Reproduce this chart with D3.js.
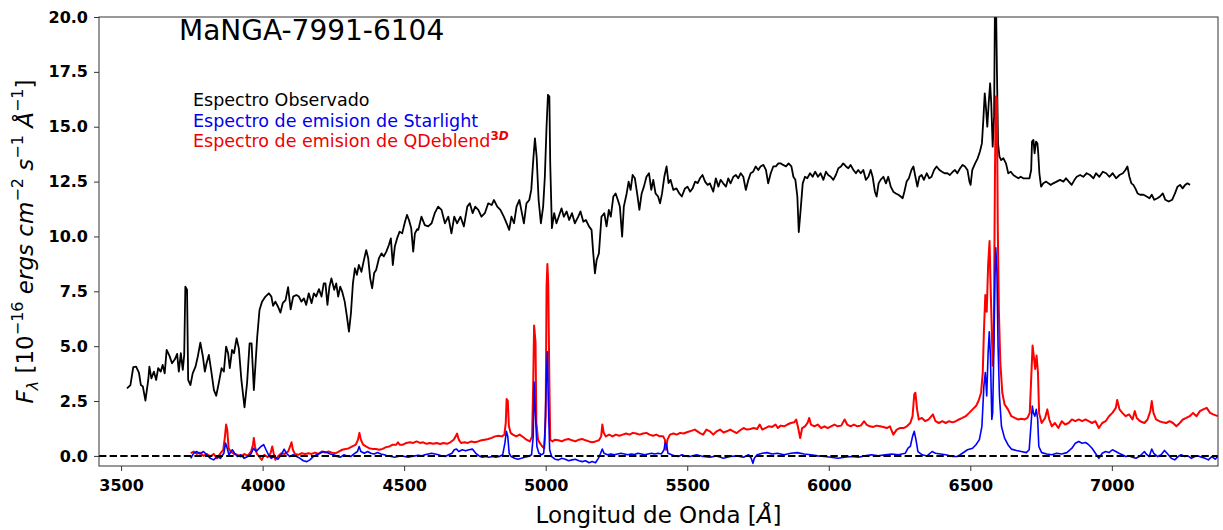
<!DOCTYPE html>
<html><head><meta charset="utf-8">
<script src="https://cdn.jsdelivr.net/npm/d3@7"></script>
<style>body{margin:0;background:#fff}svg{display:block}</style>
</head><body><svg id="c" width="1223" height="530"></svg>
<script>
// ---- data (wavelength [Å], flux [1e-16 erg/s/cm2/Å]) ----
const observed = [[3521,3.08],[3533,3.23],[3543,4.04],[3553,4.07],[3563,3.80],[3570,3.23],[3577,3.16],[3586,2.52],[3596,3.46],[3600,4.07],[3607,3.53],[3616,3.84],[3624,3.46],[3631,4.00],[3640,3.84],[3647,4.15],[3654,3.76],[3661,4.83],[3671,4.56],[3680,4.22],[3690,4.40],[3698,4.65],[3704,3.84],[3711,4.68],[3718,3.92],[3723,4.60],[3727,7.71],[3733,7.57],[3737,3.46],[3745,3.23],[3753,3.76],[3763,4.07],[3771,4.53],[3780,5.16],[3789,4.53],[3796,3.84],[3802,4.22],[3810,4.60],[3818,3.92],[3828,3.00],[3836,2.74],[3845,3.31],[3855,4.00],[3863,3.84],[3871,4.98],[3878,4.68],[3884,4.00],[3892,4.83],[3899,4.68],[3908,5.36],[3916,4.90],[3925,3.46],[3936,2.21],[3945,3.31],[3954,5.13],[3961,5.13],[3969,3.00],[3975,4.22],[3981,5.44],[3989,6.65],[3998,7.03],[4010,7.26],[4022,7.41],[4031,7.26],[4037,6.84],[4045,7.03],[4054,6.81],[4063,6.53],[4071,6.96],[4081,7.10],[4090,7.69],[4099,6.68],[4108,7.26],[4119,7.33],[4128,7.26],[4137,7.03],[4146,7.18],[4154,6.88],[4163,7.41],[4173,6.96],[4181,7.41],[4189,7.26],[4199,7.60],[4208,7.26],[4216,7.86],[4222,7.86],[4229,6.88],[4236,7.71],[4243,8.09],[4253,7.57],[4260,7.86],[4267,7.26],[4274,7.71],[4281,7.49],[4290,7.03],[4298,6.34],[4305,5.66],[4312,6.50],[4319,7.86],[4326,8.55],[4333,8.25],[4340,8.70],[4349,8.39],[4358,8.93],[4366,9.38],[4373,9.01],[4380,8.09],[4387,7.64],[4394,8.33],[4401,8.47],[4411,9.01],[4420,9.23],[4428,9.09],[4437,9.31],[4446,9.61],[4453,9.91],[4460,8.70],[4467,9.54],[4475,9.91],[4484,10.22],[4493,10.14],[4503,10.67],[4510,10.98],[4517,10.75],[4525,10.37],[4532,9.31],[4538,10.14],[4546,10.33],
[4550,10.30],[4561,10.90],[4573,10.52],[4585,10.46],[4597,10.60],[4608,11.06],[4620,11.36],[4632,11.21],[4644,10.60],[4656,10.90],[4667,10.14],[4677,10.90],[4687,10.60],[4699,10.90],[4711,10.46],[4723,11.36],[4732,11.51],[4742,11.06],[4751,11.36],[4762,11.21],[4773,10.90],[4785,11.06],[4797,11.51],[4809,11.43],[4817,11.66],[4829,11.36],[4840,11.21],[4852,10.90],[4862,10.60],[4871,10.30],[4879,10.90],[4888,10.60],[4897,11.36],[4907,11.66],[4916,11.06],[4923,10.60],[4932,11.51],[4942,11.66],[4949,12.12],[4956,13.48],[4962,14.47],[4968,13.64],[4975,11.66],[4983,10.60],[4991,11.36],[4997,12.72],[5003,15.00],[5008,16.45],[5013,16.37],[5016,13.33],[5022,10.38],[5030,11.06],[5038,10.60],[5048,10.98],[5056,11.28],[5064,10.90],[5074,11.14],[5083,10.75],[5093,11.06],[5103,10.60],[5115,10.90],[5123,11.14],[5133,10.67],[5142,10.75],[5153,10.46],[5162,10.30],[5168,9.23],[5174,8.32],[5180,8.93],[5188,9.23],[5197,10.90],[5207,11.06],[5215,10.46],[5223,11.21],[5230,10.90],[5239,11.82],[5247,11.96],[5255,11.66],[5262,11.36],[5270,9.99],[5276,11.36],[5286,11.96],[5293,12.50],[5300,12.12],[5307,12.80],[5315,12.65],[5323,11.96],[5331,11.21],[5339,11.96],[5347,12.27],[5356,12.72],[5365,12.88],[5373,12.12],[5380,12.58],[5388,11.96],[5397,11.82],[5404,11.51],[5411,11.96],[5419,12.72],[5427,13.19],[5434,12.43],[5441,12.58],[5451,12.12],[5462,12.19],[5472,11.96],[5481,11.82],[5492,12.19],[5501,12.27],[5510,12.04],[5519,12.19],[5528,12.50],[5537,12.43],[5545,12.65],[5554,12.80],[5563,12.50],[5572,12.35],
[5580,12.42],[5592,12.04],[5601,12.65],[5610,12.27],[5618,12.58],[5627,12.42],[5637,12.27],[5645,12.65],[5653,12.42],[5663,12.72],[5672,12.80],[5680,12.65],[5689,12.88],[5698,12.72],[5707,12.12],[5716,12.58],[5724,12.88],[5733,12.95],[5742,13.19],[5751,13.03],[5759,13.19],[5769,13.26],[5778,13.03],[5786,12.42],[5795,12.88],[5804,13.19],[5813,13.19],[5822,13.33],[5830,13.33],[5839,13.26],[5849,13.19],[5858,13.33],[5868,13.19],[5875,12.72],[5882,12.58],[5889,11.82],[5894,10.20],[5901,11.28],[5908,12.42],[5916,12.72],[5924,12.65],[5934,12.88],[5943,12.72],[5952,12.95],[5962,12.72],[5971,12.88],[5981,12.58],[5990,12.95],[5998,12.80],[6007,12.72],[6016,12.58],[6025,12.80],[6034,13.11],[6043,13.19],[6051,13.33],[6061,13.19],[6069,13.11],[6077,13.26],[6087,13.03],[6096,12.88],[6104,13.03],[6113,12.88],[6122,13.03],[6131,12.58],[6140,12.72],[6148,13.03],[6155,12.72],[6163,12.04],[6169,11.82],[6176,12.42],[6183,12.58],[6193,12.72],[6202,12.42],[6210,12.72],[6219,12.27],[6228,12.04],[6237,11.96],[6246,11.90],[6254,11.82],[6261,11.74],[6267,12.04],[6275,12.50],[6283,12.65],[6292,13.03],[6299,13.19],[6306,12.72],[6313,12.27],[6320,12.72],[6328,12.80],[6336,12.58],[6346,12.88],[6355,12.65],[6363,12.72],[6372,13.03],[6381,13.19],[6391,13.03],[6400,12.95],[6409,12.88],[6419,12.88],[6428,12.80],[6438,12.95],[6446,13.03],[6454,12.88],[6464,13.11],[6473,13.26],[6481,13.19],[6490,13.03],[6497,12.50],[6501,12.35],[6507,13.03],[6517,13.33],[6526,13.56],[6534,13.87],[6541,14.24],[6546,15.31],[6551,16.52],[6555,15.92],[6560,15.00],[6565,16.07],[6570,16.98],[6574,16.07],[6579,14.09],[6584,15.46],[6587,20.50],[6591,20.50],[6594,17.58],[6598,14.24],[6603,13.64],[6609,13.48],[6617,13.56],[6626,13.33],[6634,12.88],[6643,12.95],[6652,12.80],[6661,12.72],[6670,12.65],[6678,12.72],[6687,12.65],[6699,12.65],[6709,12.65],[6715,13.03],[6718,14.32],[6723,14.40],[6727,13.79],[6732,14.32],[6737,14.24],[6740,13.79],[6744,12.88],[6750,12.27],[6758,12.42],[6768,12.50],[6776,12.42],[6784,12.35],[6793,12.42],[6805,12.50],[6817,12.58],[6829,12.50],[6838,12.65],[6848,12.50],[6858,12.35],[6868,12.58],[6876,12.72],[6888,12.80],[6899,12.72],[6911,12.88],[6923,12.80],[6935,12.65],[6944,12.88],[6956,12.72],[6968,12.95],[6980,12.88],[6991,12.72],[7003,12.88],[7015,12.65],[7027,12.80],[7039,12.88],[7048,13.03],[7055,13.19],[7062,12.72],[7069,12.42],[7076,12.35],[7083,12.19],[7091,11.96],[7100,11.90],[7112,11.90],[7123,11.82],[7133,11.74],[7141,11.90],[7150,11.67],[7161,11.74],[7170,11.82],[7180,11.96],[7189,11.67],[7201,11.59],[7213,11.67],[7223,11.96],[7232,12.27],[7241,12.35],[7250,12.19],[7259,12.35],[7267,12.42],[7276,12.35]];

const qdeblend = [[3746,0.12],[3756,0.20],[3768,0.09],[3779,0.15],[3791,0.00],[3803,0.09],[3815,-0.03],[3827,0.09],[3839,-0.11],[3851,0.12],[3861,0.28],[3867,0.89],[3871,1.43],[3875,1.20],[3880,0.35],[3887,0.20],[3899,0.09],[3911,0.05],[3923,-0.03],[3935,0.09],[3947,0.00],[3959,0.20],[3966,0.51],[3969,0.82],[3973,0.43],[3980,0.09],[3988,-0.03],[3997,-0.18],[4006,0.05],[4018,-0.06],[4028,0.12],[4034,0.43],[4039,0.12],[4045,-0.18],[4054,-0.03],[4066,0.12],[4078,0.09],[4090,0.20],[4097,0.43],[4102,0.62],[4107,0.28],[4114,0.09],[4126,0.05],[4138,0.12],[4150,0.09],[4162,0.12],[4173,0.09],[4185,0.15],[4197,0.09],[4209,0.20],[4221,0.15],[4233,0.20],[4245,0.15],[4257,0.12],[4269,0.20],[4281,0.28],[4293,0.31],[4305,0.35],[4317,0.43],[4329,0.51],[4337,0.74],[4342,1.05],[4347,0.74],[4355,0.51],[4365,0.43],[4376,0.35],[4388,0.32],[4400,0.31],[4412,0.28],[4424,0.32],[4436,0.40],[4448,0.43],[4460,0.51],[4472,0.51],[4478,0.62],[4484,0.51],[4496,0.51],[4508,0.59],[4520,0.62],[4532,0.59],[4544,0.66],[4556,0.59],[4567,0.62],[4579,0.55],[4591,0.59],[4603,0.55],[4615,0.59],[4627,0.54],[4639,0.59],[4651,0.55],[4663,0.62],[4675,0.74],[4682,0.89],[4687,1.02],[4693,0.74],[4701,0.59],[4713,0.62],[4725,0.59],[4737,0.66],[4749,0.62],[4761,0.66],[4773,0.71],[4785,0.74],[4797,0.77],[4809,0.82],[4821,0.89],[4833,0.92],[4845,0.89],[4854,0.97],[4859,1.51],[4862,2.59],[4866,2.51],[4870,1.36],[4876,1.05],[4884,0.97],[4896,0.89],[4908,0.97],[4920,0.86],[4932,0.74],[4944,0.66],[4952,0.89],[4956,3.36],[4959,5.94],[4964,5.20],[4967,1.51],[4973,0.74],[4979,0.59],[4988,0.43],[4995,0.35],[5000,1.82],[5003,7.67],[5006,8.75],[5009,7.82],[5013,3.36],[5016,0.74],[5024,0.66],[5033,0.74],[5045,0.71],[5057,0.66],[5069,0.74],[5081,0.77],[5093,0.71],[5105,0.66],[5117,0.74],[5129,0.77],[5141,0.71],[5153,0.66],[5164,0.62],[5176,0.66],[5188,0.71],[5196,0.89],[5200,1.43],[5205,1.05],[5212,0.89],[5224,0.97],[5236,0.89],[5248,0.97],[5260,0.92],[5272,0.97],[5284,1.02],[5296,0.97],[5308,1.05],[5320,1.02],[5332,0.97],[5344,1.02],[5356,1.05],[5367,0.97],[5379,0.92],[5391,0.97],[5403,0.89],[5415,0.89],[5421,0.74],[5425,0.28],[5430,0.74],[5439,0.97],[5451,1.02],[5463,0.97],[5475,1.05],[5487,1.02],[5499,1.08],
[5509,1.12],[5527,1.20],[5545,1.04],[5556,0.97],[5568,1.20],[5580,1.12],[5592,0.97],[5604,1.12],[5616,1.20],[5628,1.07],[5640,1.12],[5652,1.20],[5663,1.12],[5675,1.04],[5687,1.17],[5699,1.27],[5711,1.20],[5723,1.23],[5735,1.27],[5747,1.23],[5756,1.43],[5765,1.20],[5776,1.27],[5788,1.35],[5800,1.32],[5812,1.43],[5820,1.27],[5830,1.38],[5842,1.35],[5854,1.43],[5866,1.50],[5878,1.53],[5885,1.66],[5892,1.27],[5899,0.81],[5906,1.27],[5916,1.35],[5925,1.50],[5931,1.73],[5937,1.43],[5949,1.35],[5961,1.43],[5973,1.27],[5985,1.35],[5996,1.27],[6008,1.35],[6020,1.43],[6032,1.35],[6044,1.38],[6056,1.66],[6065,1.43],[6077,1.35],[6089,1.43],[6101,1.35],[6113,1.38],[6125,1.58],[6133,1.43],[6145,1.35],[6157,1.32],[6169,1.38],[6181,1.35],[6193,1.32],[6205,1.27],[6216,1.35],[6228,0.97],[6240,1.20],[6252,1.27],[6264,1.27],[6276,1.35],[6288,1.50],[6296,1.81],[6302,2.81],[6306,2.88],[6312,2.12],[6318,1.66],[6329,1.73],[6341,1.58],[6353,1.66],[6368,1.89],[6377,1.58],[6389,1.50],[6401,1.58],[6413,1.50],[6425,1.58],[6437,1.53],[6449,1.58],[6460,1.66],[6472,1.73],[6484,1.81],[6496,1.96],[6508,2.12],[6520,2.27],[6529,2.50],[6538,2.88],[6544,3.80],[6548,5.65],[6553,7.33],[6558,6.57],[6563,8.71],[6568,9.79],[6571,8.10],[6576,5.65],[6579,4.11],[6583,5.34],[6587,12.70],[6590,16.38],[6594,16.23],[6597,10.40],[6601,6.57],[6606,4.26],[6613,2.88],[6621,2.35],[6633,2.12],[6645,1.81],[6657,1.73],[6669,1.66],[6680,1.69],[6692,1.66],[6702,1.73],[6710,1.96],[6715,3.50],[6720,5.03],[6724,4.57],[6729,3.96],[6734,4.57],[6739,3.80],[6743,1.96],[6752,1.50],[6764,1.73],[6772,2.12],[6779,1.66],[6788,1.35],[6799,1.50],[6811,1.27],[6823,1.58],[6835,1.43],[6847,1.50],[6859,1.66],[6871,1.58],[6883,1.66],[6895,1.58],[6907,1.66],[6918,1.58],[6930,1.50],[6942,1.58],[6954,1.27],[6966,1.50],[6978,1.58],[6990,1.81],[7002,1.96],[7014,2.19],[7019,2.55],[7027,2.12],[7037,1.96],[7049,1.81],[7061,1.89],[7073,1.66],[7081,2.04],[7088,1.73],[7100,1.58],[7115,1.50],[7126,1.66],[7136,2.04],[7141,2.50],[7147,1.96],[7156,1.66],[7168,1.58],[7180,1.53],[7192,1.50],[7204,1.58],[7216,1.50],[7228,1.35],[7240,1.50],[7251,1.66],[7263,1.73],[7275,1.81],[7287,1.96],[7299,1.81],[7311,2.04],[7323,2.12],[7335,2.19],[7347,1.96],[7358,1.89],[7374,1.81]];

const starlight = [[3746,-0.11],[3756,0.12],[3768,0.20],[3779,0.09],[3791,0.20],[3803,0.05],[3815,-0.11],[3827,-0.18],[3839,-0.03],[3851,-0.11],[3863,0.12],[3869,0.59],[3875,0.35],[3881,0.05],[3893,0.28],[3901,0.12],[3911,-0.03],[3923,0.05],[3935,-0.11],[3947,-0.03],[3959,0.09],[3968,0.35],[3977,0.20],[3985,0.31],[3994,0.43],[4004,0.51],[4012,0.28],[4021,0.05],[4030,-0.11],[4042,-0.03],[4054,-0.15],[4066,0.05],[4076,0.31],[4084,0.12],[4096,-0.03],[4108,0.05],[4120,-0.03],[4132,-0.11],[4144,-0.22],[4156,-0.26],[4167,-0.18],[4179,-0.03],[4191,0.05],[4203,0.12],[4215,0.20],[4227,0.15],[4239,0.09],[4251,0.05],[4263,-0.03],[4275,-0.06],[4287,0.05],[4299,0.00],[4311,-0.03],[4323,0.09],[4335,0.20],[4341,0.43],[4347,0.20],[4359,0.12],[4371,0.20],[4382,0.12],[4394,0.09],[4406,0.15],[4418,0.09],[4430,0.05],[4442,0.00],[4454,-0.03],[4466,-0.06],[4478,-0.03],[4490,0.00],[4502,-0.03],[4514,-0.06],[4526,-0.03],[4538,0.00],[4550,0.03],[4562,0.00],[4573,0.05],[4585,0.09],[4597,0.12],[4609,0.09],[4621,0.05],[4633,0.00],[4645,-0.03],[4657,0.05],[4669,0.12],[4677,0.28],[4685,0.31],[4693,0.20],[4705,0.28],[4717,0.23],[4729,0.28],[4741,0.31],[4753,0.12],[4765,0.00],[4776,-0.06],[4788,-0.03],[4800,-0.06],[4812,-0.03],[4824,-0.06],[4836,-0.03],[4848,0.05],[4856,0.59],[4861,1.12],[4866,0.89],[4871,0.12],[4878,-0.03],[4890,-0.11],[4902,-0.15],[4914,-0.11],[4926,-0.06],[4938,-0.03],[4950,0.05],[4956,0.89],[4959,3.36],[4964,1.82],[4969,0.43],[4976,0.12],[4985,0.05],[4993,0.12],[4997,0.89],[5002,3.36],[5006,4.74],[5009,2.59],[5014,0.28],[5021,-0.03],[5033,-0.15],[5045,-0.18],[5057,-0.11],[5069,-0.15],[5081,-0.22],[5093,-0.18],[5105,-0.15],[5117,-0.22],[5129,-0.26],[5141,-0.22],[5153,-0.31],[5164,-0.26],[5176,-0.31],[5186,-0.11],[5194,0.12],[5200,0.31],[5206,0.12],[5218,0.05],[5230,0.09],[5242,0.05],[5254,0.09],[5266,0.12],[5278,0.09],[5290,0.05],[5302,0.09],[5314,0.06],[5326,0.12],[5338,0.09],[5350,0.05],[5362,0.09],[5374,0.12],[5385,0.09],[5397,0.12],[5409,0.09],[5418,0.28],[5422,0.59],[5427,0.51],[5432,0.12],[5445,0.05],[5457,0.00],[5469,-0.03],[5481,0.05],[5493,0.00],[5505,-0.03],
[5509,-0.03],[5533,0.05],[5556,-0.03],[5580,-0.06],[5604,0.00],[5628,-0.11],[5652,-0.03],[5675,0.00],[5699,-0.06],[5717,0.05],[5726,-0.11],[5732,-0.34],[5737,-0.11],[5747,0.05],[5765,0.12],[5782,0.15],[5800,0.09],[5818,0.12],[5842,0.05],[5866,0.12],[5889,0.15],[5913,0.09],[5937,0.05],[5961,0.00],[5985,-0.03],[6008,-0.06],[6032,-0.11],[6056,-0.06],[6080,-0.03],[6104,-0.06],[6127,0.00],[6151,0.05],[6175,0.00],[6199,0.05],[6223,0.09],[6246,0.05],[6270,0.12],[6280,0.35],[6288,0.43],[6296,0.89],[6302,1.12],[6308,0.74],[6315,0.20],[6330,0.05],[6347,0.00],[6365,0.20],[6377,0.12],[6395,0.09],[6413,0.05],[6437,-0.03],[6454,-0.03],[6472,0.12],[6490,0.28],[6508,0.35],[6520,0.51],[6532,0.74],[6541,1.35],[6548,3.19],[6553,3.80],[6558,2.73],[6563,4.72],[6567,5.65],[6571,4.57],[6576,1.66],[6579,1.96],[6583,4.72],[6587,8.10],[6590,9.48],[6594,8.41],[6598,5.03],[6603,2.73],[6610,1.35],[6621,0.81],[6633,0.51],[6645,0.31],[6663,0.25],[6680,0.20],[6698,0.15],[6708,0.28],[6714,1.35],[6719,2.27],[6723,1.96],[6728,1.81],[6733,2.12],[6738,1.66],[6742,0.43],[6752,0.15],[6770,0.09],[6788,0.05],[6805,0.12],[6823,0.09],[6841,0.15],[6859,0.35],[6871,0.58],[6883,0.66],[6895,0.58],[6907,0.61],[6918,0.51],[6930,0.35],[6942,0.12],[6954,-0.11],[6966,0.12],[6978,0.20],[6990,0.15],[7002,0.28],[7014,0.20],[7025,0.12],[7037,0.05],[7049,-0.03],[7061,0.00],[7073,-0.06],[7085,-0.11],[7097,-0.03],[7109,0.12],[7115,0.20],[7121,0.09],[7132,-0.03],[7141,0.31],[7148,0.12],[7162,-0.03],[7174,0.05],[7186,0.25],[7195,0.12],[7210,-0.11],[7222,-0.18],[7234,-0.03],[7245,0.05],[7257,-0.03],[7269,0.00],[7281,-0.11],[7293,-0.03],[7305,0.00],[7317,-0.06],[7329,-0.11],[7341,-0.18],[7353,-0.03],[7365,-0.15],[7374,-0.03]];

const xTicks = [3500,4000,4500,5000,5500,6000,6500,7000];
const yTicks = [0,2.5,5,7.5,10,12.5,15,17.5,20];
const xDomain = [3422,7375];
const yDomain = [-0.46,20];
const titleText = "MaNGA-7991-6104";
const legendLabels = ["Espectro Observado","Espectro de emision de Starlight","Espectro de emision de QDeblend"];
const legendColors = ["#000000","#0000ee","#ee0000"];

// ---- layout ----
const W = 1223, H = 530;
const m = {left:99, right:5, top:17, bottom:64};
const svg = d3.select("#c");
const FONT = "'DejaVu Sans', sans-serif";

const x = d3.scaleLinear().domain(xDomain).range([m.left, W - m.right]);
const y = d3.scaleLinear().domain(yDomain).range([H - m.bottom, m.top]);

svg.append("rect").attr("width",W).attr("height",H).attr("fill","#fff");

svg.append("defs").append("clipPath").attr("id","plotclip")
  .append("rect").attr("x",m.left).attr("y",m.top)
  .attr("width",W-m.left-m.right).attr("height",H-m.top-m.bottom);

const plot = svg.append("g").attr("clip-path","url(#plotclip)");
const line = d3.line().x(d=>x(d[0])).y(d=>y(d[1]));

plot.append("path").datum(observed).attr("d",line)
  .attr("fill","none").attr("stroke","#000").attr("stroke-width",1.8).attr("stroke-linejoin","round");
plot.append("path").datum(qdeblend).attr("d",line)
  .attr("fill","none").attr("stroke","#ff0000").attr("stroke-width",2).attr("stroke-linejoin","round");
plot.append("path").datum(starlight).attr("d",line)
  .attr("fill","none").attr("stroke","#0000ff").attr("stroke-width",1.6).attr("stroke-linejoin","round");
plot.append("line")
  .attr("x1",x(xDomain[0])).attr("x2",x(xDomain[1]))
  .attr("y1",y(0)).attr("y2",y(0))
  .attr("stroke","#000").attr("stroke-width",2).attr("stroke-dasharray","7.4,3.2");

// axes
const xAxis = svg.append("g").attr("transform",`translate(0,${H-m.bottom})`)
  .call(d3.axisBottom(x).tickValues(xTicks).tickSize(5).tickPadding(6).tickFormat(d3.format("d")));
const yAxis = svg.append("g").attr("transform",`translate(${m.left},0)`)
  .call(d3.axisLeft(y).tickValues(yTicks).tickSize(5).tickPadding(6).tickFormat(d3.format(".1f")));
[xAxis,yAxis].forEach(a=>{
  a.select(".domain").remove();
  a.selectAll(".tick line").attr("stroke","#333").attr("stroke-width",1);
  a.selectAll(".tick text").attr("fill","#000").style("font-family",FONT)
    .style("font-size","16px").style("font-weight","bold");
});
xAxis.selectAll(".tick text").attr("dy","0.85em");

// frame
svg.append("rect").attr("x",m.left).attr("y",m.top)
  .attr("width",W-m.left-m.right).attr("height",H-m.top-m.bottom)
  .attr("fill","none").attr("stroke","#333").attr("stroke-width",1);

// title inside axes
svg.append("text").attr("x",179).attr("y",40).text(titleText)
  .style("font-family",FONT).style("font-size","28px").attr("fill","#000");

// legend (text only)
const leg = svg.append("g");
legendLabels.forEach((t,i)=>{
  const tx = leg.append("text").attr("x",193).attr("y",106+i*20.5)
    .style("font-family",FONT).style("font-size","17.5px").attr("fill",legendColors[i]);
  tx.append("tspan").text(t);
  if(i===2){
    tx.append("tspan").attr("dy",-7).style("font-size","12px").style("font-weight","bold").text("3");
    tx.append("tspan").style("font-size","12px").style("font-style","italic").style("font-weight","bold").text("D");
  }
});

// rich text helper
function rich(sel, parts){
  let cur = 0;
  parts.forEach(p=>{
    const shift = p.shift||0;
    const ts = sel.append("tspan").text(p.t);
    if(shift!==cur){ ts.attr("dy", shift-cur); cur = shift; }
    if(p.it) ts.style("font-style","italic");
    if(p.size) ts.style("font-size",p.size+"px");
  });
}

// x label
const xl = svg.append("text").attr("x",(m.left+W-m.right)/2).attr("y",523)
  .attr("text-anchor","middle").style("font-family",FONT).style("font-size","23px").attr("fill","#000");
rich(xl,[{t:"Longitud de Onda ["},{t:"Å",it:true},{t:"]"}]);

// y label
const yl = svg.append("text").attr("transform",`translate(33,${(m.top+H-m.bottom)/2}) rotate(-90)`)
  .attr("text-anchor","middle").style("font-family",FONT).style("font-size","23px").attr("fill","#000");
rich(yl,[
  {t:"F",it:true},{t:"λ",it:true,size:16,shift:5},
  {t:" [10"},{t:"−16",size:16,shift:-10},
  {t:" "},{t:"ergs cm",it:true},{t:"−2",size:16,shift:-10},
  {t:" "},{t:"s",it:true},{t:"−1",size:16,shift:-10},
  {t:" "},{t:"Å",it:true},{t:"−1",size:16,shift:-10},
  {t:"]"}
]);
</script></body></html>
